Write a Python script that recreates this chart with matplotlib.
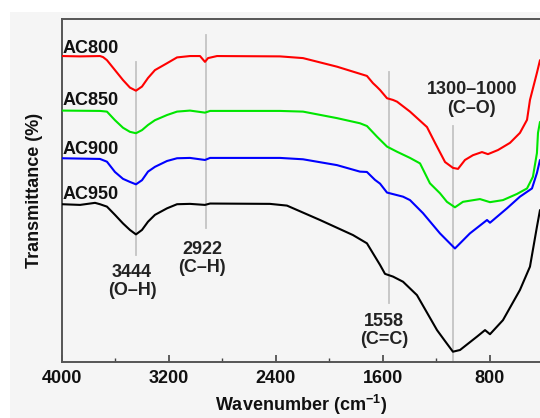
import matplotlib

matplotlib.use("Agg")
import matplotlib.pyplot as plt
from matplotlib.patches import Rectangle

plt.rcParams["font.family"] = ["Liberation Sans", "DejaVu Sans"]
plt.rcParams["font.weight"] = "bold"
plt.rcParams["mathtext.fontset"] = "custom"
plt.rcParams["mathtext.bf"] = "Liberation Sans:bold"
plt.rcParams["mathtext.rm"] = "Liberation Sans:bold"

# --- FTIR spectra (wavenumber in cm^-1, transmittance in stacked % units) ---
wn_ac800 = [4000, 3865, 3716, 3693, 3664, 3604, 3544, 3492, 3447, 3402, 3357,
            3305, 3215, 3140, 3043, 2968, 2931, 2908, 2841, 2370, 2198, 1944,
            1720, 1675, 1645, 1622, 1570, 1525, 1495, 1398, 1271, 1211, 1136,
            1077, 1039, 987, 927, 860, 815, 740, 650, 576, 523, 501, 449, 426]
t_ac800 = [89.2, 89.1, 89.2, 88.9, 88.0, 85.1, 82.2, 80.0, 79.1, 80.3, 82.8,
           85.1, 87.1, 88.8, 89.2, 89.2, 87.5, 88.6, 89.2, 89.1, 88.6, 86.1,
           83.4, 81.3, 80.2, 79.3, 76.9, 76.4, 75.9, 73.0, 68.5, 63.9, 58.3,
           56.6, 56.3, 58.9, 60.3, 61.2, 60.6, 61.8, 63.9, 66.8, 70.6, 76.4, 84.3, 88.0]

wn_ac850 = [4000, 3716, 3664, 3604, 3544, 3492, 3447, 3402, 3357, 3305, 3215,
            3140, 3043, 2931, 2893, 2370, 2198, 1944, 1772, 1720, 1645, 1570,
            1495, 1398, 1323, 1249, 1174, 1122, 1062, 1002, 875, 800, 703, 598,
            523, 479, 449, 441, 426]
t_ac850 = [73.3, 73.2, 73.0, 70.5, 68.3, 67.1, 66.7, 67.6, 69.1, 70.5, 72.0,
           73.0, 73.3, 72.7, 73.2, 73.2, 73.0, 71.1, 69.6, 68.8, 65.7, 62.8,
           61.3, 59.5, 57.9, 52.1, 49.2, 46.7, 45.1, 46.7, 47.5, 46.6, 47.2, 49.0,
           50.6, 54.0, 60.9, 66.8, 70.0]

wn_ac900 = [4000, 3716, 3664, 3604, 3544, 3492, 3447, 3402, 3357, 3305, 3215,
            3140, 3043, 2931, 2893, 2370, 2198, 1944, 1772, 1720, 1660, 1622,
            1570, 1450, 1398, 1301, 1174, 1062, 950, 822, 800, 673, 576, 486,
            449, 426]
t_ac900 = [59.4, 59.2, 58.4, 55.4, 53.4, 52.5, 51.8, 53.0, 55.5, 56.9, 58.6,
           59.4, 59.5, 58.9, 59.5, 59.5, 59.1, 57.4, 55.5, 55.4, 53.1, 52.0,
           49.4, 48.2, 47.2, 43.4, 37.5, 33.1, 37.5, 41.4, 40.6, 44.8, 48.2, 50.6,
           55.1, 58.9]

wn_ac950 = [4000, 3865, 3753, 3716, 3664, 3604, 3544, 3492, 3447, 3402, 3357,
            3305, 3215, 3140, 3043, 2931, 2893, 2445, 2318, 2071, 1824, 1720,
            1675, 1622, 1585, 1525, 1450, 1346, 1196, 1136, 1077, 1024, 897, 837,
            800, 703, 576, 501, 449, 426]
t_ac950 = [46.0, 45.8, 46.4, 46.0, 45.3, 42.9, 40.4, 38.5, 37.2, 38.5, 40.9,
           42.9, 44.8, 46.0, 46.1, 45.8, 46.2, 46.1, 45.6, 41.4, 37.0, 34.6,
           31.7, 28.3, 25.7, 24.9, 23.4, 19.5, 9.3, 6.1, 3.0, 3.5, 7.4, 9.3,
           8.1, 12.2, 21.0, 27.8, 39.4, 44.3]

series_names = ["AC800", "AC850", "AC900", "AC950"]
series_colors = ["#ff0000", "#00e600", "#0000ff", "#000000"]
name_heights = [90.2, 74.9, 60.6, 47.5]

# marker lines for the assigned bands: position, bottom, top
band_wn = [3444, 2922, 1558, 1080]
band_lo = [31.2, 39.1, 17.2, 0.0]
band_hi = [87.5, 95.3, 84.5, 68.8]

band_labels = ["3444\n(O–H)", "2922\n(C–H)", "1558\n(C=C)", "1300–1000\n(C–O)"]
band_label_x = [3477, 2953, 1593, 935]
band_label_y = [23.5, 30.2, 9.2, 76.7]


fig = plt.figure(figsize=(5.4, 4.18), dpi=100)
fig.patch.set_facecolor("white")
# light grey panel behind everything, leaving a thin white margin top/left
fig.add_artist(Rectangle((10 / 540, 0), 1, 1 - 12 / 418,
                         transform=fig.transFigure,
                         facecolor="#f5f5f5", edgecolor="none", zorder=-10))

ax = fig.add_axes([62 / 540, 56 / 418, 1 - 62 / 540, 343 / 418])
ax.set_facecolor("#f5f5f5")

for x, lo, hi in zip(band_wn, band_lo, band_hi):
    ax.plot([x, x], [lo, hi], color="#c4c4c4", lw=1.3, zorder=1)

spectra = [(wn_ac800, t_ac800), (wn_ac850, t_ac850),
           (wn_ac900, t_ac900), (wn_ac950, t_ac950)]
for (wn, t), c in zip(spectra, series_colors):
    ax.plot(wn, t, color=c, lw=1.5, zorder=3, solid_joinstyle="round",
            solid_capstyle="round")

for name, y in zip(series_names, name_heights):
    ax.text(3995, y, name, ha="left", va="baseline", fontsize=13,
            fontweight="bold", color="#111111")

for lab, x, y in zip(band_labels, band_label_x, band_label_y):
    ax.text(x, y, lab, ha="center", va="center", fontsize=13,
            fontweight="bold", linespacing=1.1, color="#222222")

ax.set_xlim(4000, 426)
ax.set_ylim(0, 100)
ax.set_xticks([4000, 3200, 2400, 1600, 800])
ax.set_xticks([3600, 2800, 2000, 1200], minor=True)
ax.set_yticks([])
ax.tick_params(axis="x", which="major", direction="in", length=5, width=1.2,
               pad=6, labelsize=13, colors="#444444", labelcolor="#111111")
ax.tick_params(axis="x", which="minor", direction="in", length=3, width=1.0,
               colors="#444444")

for side in ["left", "bottom", "top"]:
    ax.spines[side].set_color("#555555")
    ax.spines[side].set_linewidth(1.4)
ax.spines["right"].set_visible(False)

ax.set_xlabel(r"Wavenumber (cm$^{\mathbf{-1}}$)", fontsize=13,
              fontweight="bold", labelpad=4, color="#111111")
ax.set_ylabel("Transmittance (%)", fontsize=13, fontweight="bold",
              labelpad=14, color="#111111")

fig.savefig("out.png", dpi=100, facecolor=fig.get_facecolor())
